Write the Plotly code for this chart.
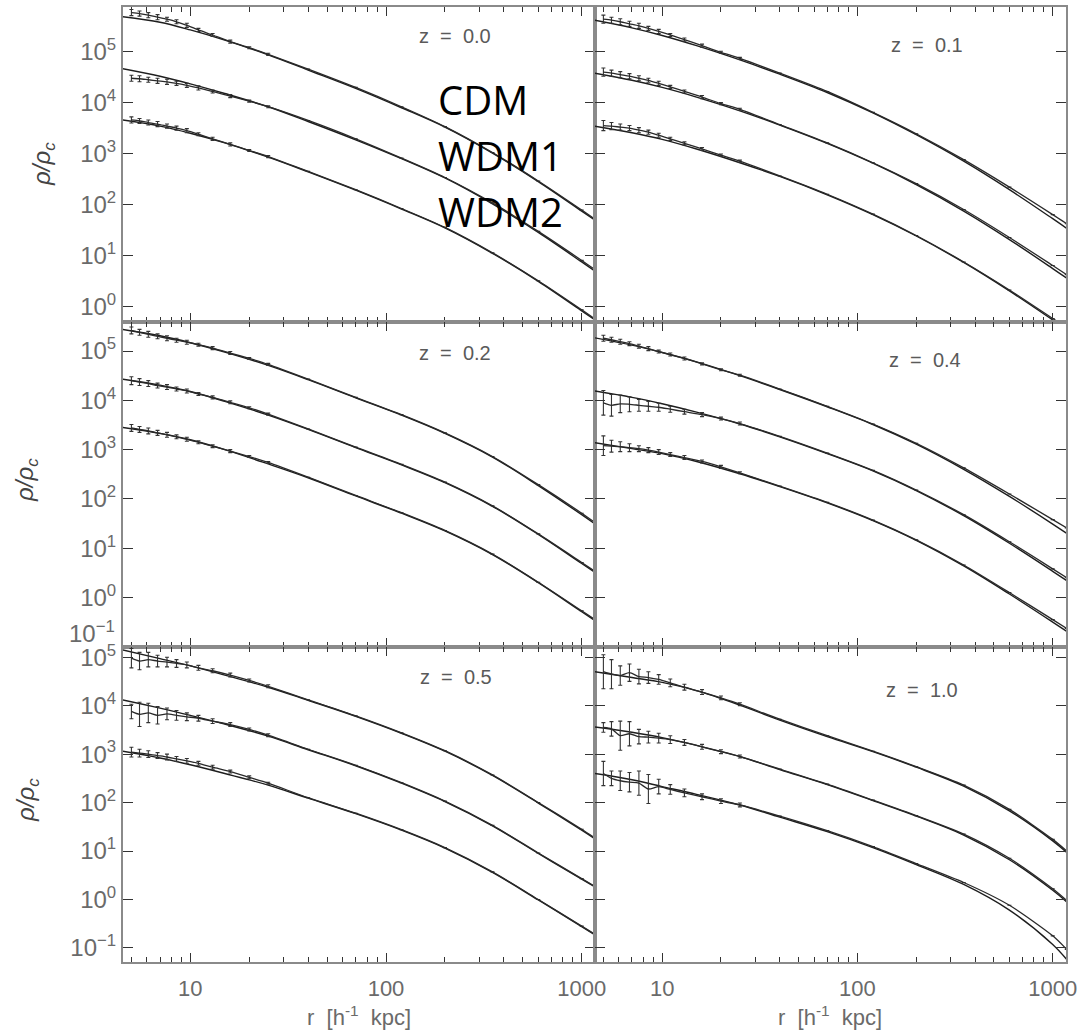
import numpy as np
import plotly.graph_objects as go

# ---------------- data (log10 of rho/rho_c) ----------------
R_FIT = [4.5, 7, 10, 15, 25, 40, 70, 120, 200, 350, 600, 1000, 1180]
R_DATA = [5.0, 5.5, 6.1, 6.8, 7.6, 8.5, 9.6, 11, 13, 16, 20, 25, 40, 70, 120, 200, 350, 600, 1000, 1180]
MODELS = ["CDM", "WDM1", "WDM2"]
REDSHIFTS = ["0.0", "0.1", "0.2", "0.4", "0.5", "1.0"]

# z = 0.0
fit_z00_cdm = [5.69, 5.58, 5.43, 5.23, 4.94, 4.64, 4.28, 3.90, 3.52, 3.01, 2.45, 1.87, 1.68]
fit_z00_wdm1 = [4.67, 4.52, 4.37, 4.18, 3.92, 3.63, 3.27, 2.90, 2.52, 2.01, 1.45, 0.87, 0.68]
fit_z00_wdm2 = [3.66, 3.54, 3.40, 3.21, 2.93, 2.64, 2.28, 1.91, 1.54, 1.04, 0.49, -0.09, -0.28]
data_z00_cdm = [5.77, 5.75, 5.72, 5.68, 5.64, 5.59, 5.52, 5.43, 5.33, 5.20, 5.08, 4.95, 4.66, 4.30, 3.92, 3.53, 3.02, 2.46, 1.89, 1.70]
data_z00_wdm1 = [4.48, 4.47, 4.45, 4.43, 4.41, 4.38, 4.34, 4.29, 4.22, 4.13, 4.03, 3.92, 3.65, 3.29, 2.91, 2.53, 2.03, 1.47, 0.90, 0.71]
data_z00_wdm2 = [3.66, 3.64, 3.61, 3.58, 3.54, 3.50, 3.45, 3.38, 3.29, 3.18, 3.06, 2.94, 2.65, 2.29, 1.92, 1.55, 1.05, 0.50, -0.07, -0.26]
err_z00_cdm = [0.06, 0.05, 0.05, 0.05, 0.04, 0.04, 0.04, 0.03, 0.03, 0.03, 0.02, 0.02]
err_z00_wdm1 = [0.06, 0.06, 0.05, 0.05, 0.05, 0.04, 0.04, 0.04, 0.03, 0.03, 0.02, 0.02]
err_z00_wdm2 = [0.06, 0.05, 0.05, 0.05, 0.04, 0.04, 0.04, 0.03, 0.03, 0.03, 0.02, 0.02]

# z = 0.1
fit_z01_cdm = [5.62, 5.47, 5.32, 5.12, 4.84, 4.56, 4.20, 3.80, 3.37, 2.85, 2.29, 1.72, 1.53]
fit_z01_wdm1 = [4.58, 4.44, 4.30, 4.11, 3.84, 3.56, 3.20, 2.81, 2.39, 1.87, 1.31, 0.74, 0.55]
fit_z01_wdm2 = [3.54, 3.41, 3.28, 3.09, 2.82, 2.55, 2.19, 1.80, 1.38, 0.86, 0.30, -0.27, -0.46]
data_z01_cdm = [5.64, 5.62, 5.59, 5.55, 5.51, 5.46, 5.40, 5.33, 5.24, 5.12, 4.99, 4.87, 4.58, 4.22, 3.81, 3.39, 2.88, 2.34, 1.80, 1.62]
data_z01_wdm1 = [4.60, 4.58, 4.55, 4.52, 4.48, 4.44, 4.38, 4.31, 4.22, 4.11, 3.98, 3.87, 3.57, 3.21, 2.82, 2.41, 1.90, 1.35, 0.80, 0.62]
data_z01_wdm2 = [3.55, 3.54, 3.52, 3.50, 3.46, 3.42, 3.36, 3.29, 3.20, 3.09, 2.97, 2.85, 2.56, 2.20, 1.81, 1.39, 0.87, 0.32, -0.24, -0.42]
err_z01_cdm = [0.08, 0.06, 0.06, 0.05, 0.05, 0.04, 0.04, 0.03, 0.03, 0.03, 0.02, 0.02]
err_z01_wdm1 = [0.08, 0.06, 0.06, 0.05, 0.05, 0.04, 0.04, 0.03, 0.03, 0.03, 0.02, 0.02]
err_z01_wdm2 = [0.10, 0.07, 0.06, 0.05, 0.05, 0.04, 0.04, 0.03, 0.03, 0.03, 0.02, 0.02]

# z = 0.2
fit_z02_cdm = [5.44, 5.31, 5.17, 4.98, 4.71, 4.42, 4.05, 3.70, 3.33, 2.85, 2.27, 1.68, 1.48]
fit_z02_wdm1 = [4.43, 4.31, 4.18, 3.98, 3.70, 3.41, 3.04, 2.69, 2.33, 1.85, 1.28, 0.69, 0.50]
fit_z02_wdm2 = [3.45, 3.33, 3.20, 3.00, 2.71, 2.43, 2.06, 1.71, 1.35, 0.87, 0.30, -0.29, -0.48]
data_z02_cdm = [5.42, 5.38, 5.34, 5.30, 5.26, 5.22, 5.18, 5.13, 5.06, 4.96, 4.85, 4.73, 4.43, 4.06, 3.71, 3.34, 2.86, 2.29, 1.71, 1.51]
data_z02_wdm1 = [4.40, 4.37, 4.34, 4.30, 4.27, 4.23, 4.19, 4.13, 4.06, 3.96, 3.85, 3.72, 3.42, 3.05, 2.70, 2.34, 1.86, 1.29, 0.71, 0.52]
data_z02_wdm2 = [3.44, 3.41, 3.38, 3.34, 3.30, 3.26, 3.21, 3.15, 3.07, 2.97, 2.86, 2.74, 2.44, 2.07, 1.72, 1.36, 0.88, 0.31, -0.27, -0.46]
err_z02_cdm = [0.07, 0.06, 0.06, 0.05, 0.05, 0.04, 0.04, 0.03, 0.03, 0.03, 0.02, 0.02]
err_z02_wdm1 = [0.08, 0.07, 0.06, 0.05, 0.05, 0.04, 0.04, 0.03, 0.03, 0.03, 0.02, 0.02]
err_z02_wdm2 = [0.07, 0.06, 0.06, 0.05, 0.05, 0.04, 0.04, 0.03, 0.03, 0.03, 0.02, 0.02]

# z = 0.4
fit_z04_cdm = [5.27, 5.12, 4.97, 4.78, 4.50, 4.22, 3.87, 3.51, 3.11, 2.60, 2.05, 1.49, 1.30]
fit_z04_wdm1 = [4.19, 4.06, 3.93, 3.76, 3.52, 3.26, 2.92, 2.57, 2.17, 1.66, 1.10, 0.53, 0.34]
fit_z04_wdm2 = [3.14, 3.02, 2.92, 2.76, 2.51, 2.25, 1.92, 1.56, 1.16, 0.64, 0.07, -0.50, -0.69]
data_z04_cdm = [5.26, 5.23, 5.19, 5.15, 5.10, 5.05, 4.99, 4.93, 4.85, 4.74, 4.62, 4.51, 4.23, 3.88, 3.52, 3.13, 2.63, 2.10, 1.58, 1.41]
data_z04_wdm1 = [3.95, 3.90, 3.93, 3.92, 3.90, 3.88, 3.86, 3.82, 3.77, 3.71, 3.63, 3.53, 3.27, 2.93, 2.58, 2.18, 1.68, 1.13, 0.58, 0.40]
data_z04_wdm2 = [3.08, 3.07, 3.06, 3.04, 3.02, 2.99, 2.95, 2.90, 2.84, 2.76, 2.65, 2.53, 2.26, 1.93, 1.57, 1.17, 0.66, 0.10, -0.45, -0.63]
err_z04_cdm = [0.06, 0.05, 0.05, 0.04, 0.04, 0.04, 0.03, 0.03, 0.03, 0.02, 0.02, 0.02]
err_z04_wdm1 = [0.25, 0.22, 0.18, 0.15, 0.12, 0.10, 0.08, 0.06, 0.05, 0.04, 0.03, 0.03]
err_z04_wdm2 = [0.20, 0.12, 0.10, 0.08, 0.06, 0.05, 0.05, 0.04, 0.04, 0.03, 0.03, 0.02]

# z = 0.5
fit_z05_cdm = [5.15, 4.97, 4.82, 4.63, 4.38, 4.11, 3.78, 3.43, 3.06, 2.56, 1.99, 1.43, 1.24]
fit_z05_wdm1 = [4.12, 3.95, 3.80, 3.62, 3.37, 3.09, 2.76, 2.40, 2.02, 1.52, 0.95, 0.42, 0.25]
fit_z05_wdm2 = [3.06, 2.92, 2.78, 2.60, 2.36, 2.09, 1.77, 1.43, 1.06, 0.56, -0.01, -0.56, -0.74]
data_z05_cdm = [4.98, 4.92, 4.95, 4.92, 4.90, 4.87, 4.84, 4.78, 4.72, 4.63, 4.52, 4.40, 4.12, 3.79, 3.44, 3.07, 2.57, 2.00, 1.45, 1.26]
data_z05_wdm1 = [3.88, 3.82, 3.85, 3.80, 3.83, 3.80, 3.77, 3.74, 3.68, 3.61, 3.51, 3.39, 3.10, 2.77, 2.41, 2.03, 1.53, 0.96, 0.43, 0.26]
data_z05_wdm2 = [3.04, 3.02, 3.00, 2.97, 2.94, 2.90, 2.86, 2.81, 2.73, 2.64, 2.52, 2.40, 2.10, 1.78, 1.44, 1.07, 0.57, 0.00, -0.55, -0.73]
err_z05_cdm = [0.20, 0.18, 0.15, 0.12, 0.10, 0.08, 0.06, 0.05, 0.04, 0.04, 0.03, 0.03]
err_z05_wdm1 = [0.15, 0.25, 0.20, 0.18, 0.12, 0.10, 0.08, 0.06, 0.05, 0.04, 0.03, 0.03]
err_z05_wdm2 = [0.10, 0.08, 0.07, 0.06, 0.06, 0.05, 0.05, 0.04, 0.04, 0.03, 0.03, 0.02]

# z = 1.0
fit_z10_cdm = [4.70, 4.58, 4.48, 4.31, 4.01, 3.70, 3.36, 3.05, 2.73, 2.34, 1.83, 1.21, 0.97]
fit_z10_wdm1 = [3.56, 3.45, 3.34, 3.18, 2.95, 2.68, 2.37, 2.04, 1.72, 1.33, 0.82, 0.19, -0.05]
fit_z10_wdm2 = [2.60, 2.47, 2.33, 2.17, 1.95, 1.70, 1.40, 1.07, 0.72, 0.31, -0.22, -0.93, -1.24]
data_z10_cdm = [4.70, 4.65, 4.62, 4.68, 4.60, 4.58, 4.54, 4.47, 4.38, 4.28, 4.16, 4.03, 3.72, 3.38, 3.06, 2.74, 2.36, 1.86, 1.24, 1.00]
data_z10_wdm1 = [3.55, 3.52, 3.38, 3.42, 3.36, 3.35, 3.33, 3.30, 3.24, 3.15, 3.05, 2.95, 2.69, 2.38, 2.05, 1.73, 1.35, 0.85, 0.22, -0.02]
data_z10_wdm2 = [2.60, 2.50, 2.45, 2.42, 2.40, 2.28, 2.33, 2.27, 2.20, 2.12, 2.03, 1.95, 1.72, 1.42, 1.09, 0.74, 0.35, -0.12, -0.75, -1.03]
err_z10_cdm = [0.35, 0.30, 0.20, 0.18, 0.15, 0.12, 0.10, 0.08, 0.06, 0.05, 0.04, 0.03]
err_z10_wdm1 = [0.10, 0.15, 0.30, 0.25, 0.15, 0.12, 0.10, 0.08, 0.06, 0.05, 0.04, 0.03]
err_z10_wdm2 = [0.25, 0.15, 0.20, 0.20, 0.25, 0.30, 0.15, 0.10, 0.08, 0.06, 0.05, 0.04]

PANELS = [
    ("0.0", [fit_z00_cdm, fit_z00_wdm1, fit_z00_wdm2], [data_z00_cdm, data_z00_wdm1, data_z00_wdm2], [err_z00_cdm, err_z00_wdm1, err_z00_wdm2]),
    ("0.1", [fit_z01_cdm, fit_z01_wdm1, fit_z01_wdm2], [data_z01_cdm, data_z01_wdm1, data_z01_wdm2], [err_z01_cdm, err_z01_wdm1, err_z01_wdm2]),
    ("0.2", [fit_z02_cdm, fit_z02_wdm1, fit_z02_wdm2], [data_z02_cdm, data_z02_wdm1, data_z02_wdm2], [err_z02_cdm, err_z02_wdm1, err_z02_wdm2]),
    ("0.4", [fit_z04_cdm, fit_z04_wdm1, fit_z04_wdm2], [data_z04_cdm, data_z04_wdm1, data_z04_wdm2], [err_z04_cdm, err_z04_wdm1, err_z04_wdm2]),
    ("0.5", [fit_z05_cdm, fit_z05_wdm1, fit_z05_wdm2], [data_z05_cdm, data_z05_wdm1, data_z05_wdm2], [err_z05_cdm, err_z05_wdm1, err_z05_wdm2]),
    ("1.0", [fit_z10_cdm, fit_z10_wdm1, fit_z10_wdm2], [data_z10_cdm, data_z10_wdm1, data_z10_wdm2], [err_z10_cdm, err_z10_wdm1, err_z10_wdm2]),
]

# ---------------- layout geometry ----------------
W, H = 1090, 1035
X_DOM = [[123 / W, 595 / W], [595 / W, 1066 / W]]
Y_DOM = [[1 - 322 / H, 1 - 7 / H], [1 - 647 / H, 1 - 322 / H], [1 - 962 / H, 1 - 647 / H]]
Y_RANGE = [[-0.31, 5.88], [-1.005, 5.59], [-1.29, 5.21]]
X_RANGE = [0.656, 3.068]

FONT = "Liberation Sans, Arial, sans-serif"
AXCOL = "#8a8a8a"
TICKCOL = "#333333"
LABCOL = "#6a6a6a"
LINECOL = "#1e1e1e"


def sup_label(k):
    return "10<sup>" + (str(k) if k >= 0 else "\u2212" + str(-k)) + "</sup>"


fig = go.Figure()

for i, (zlab, fits, datas, errs) in enumerate(PANELS):
    row, col = i // 2, i % 2
    xa = "x" if i == 0 else f"x{i+1}"
    ya = "y" if i == 0 else f"y{i+1}"
    for m, name in enumerate(MODELS):
        yfit = 10 ** np.array(fits[m])
        fig.add_trace(go.Scatter(x=R_FIT, y=yfit, mode="lines", xaxis=xa, yaxis=ya,
                                 line=dict(color=LINECOL, width=1.4, shape="spline", smoothing=1.0),
                                 showlegend=False, name=f"{name} fit z={zlab}"))
        yd = 10 ** np.array(datas[m])
        e = np.array(errs[m] + [0.0] * (len(R_DATA) - len(errs[m])))
        plus = yd * (10 ** e - 1)
        minus = yd * (1 - 10 ** (-e))
        fig.add_trace(go.Scatter(x=R_DATA, y=yd, mode="lines", xaxis=xa, yaxis=ya,
                                 line=dict(color="#2a2a2a", width=1.3, shape="spline", smoothing=0.7),
                                 showlegend=False, name=f"{name} z={zlab}",
                                 error_y=dict(type="data", symmetric=False, array=plus,
                                              arrayminus=minus, color="#333333",
                                              thickness=1.1, width=2)))

    xkey = "xaxis" if i == 0 else f"xaxis{i+1}"
    ykey = "yaxis" if i == 0 else f"yaxis{i+1}"
    yr = Y_RANGE[row]
    kmin = int(np.ceil(yr[0] - 1e-9))
    kmax = int(np.floor(yr[1]))
    ytv = [10.0 ** k for k in range(kmin, kmax + 1)]
    ytt = [sup_label(k) for k in range(kmin, kmax + 1)]
    if row == 1:
        ytt[0] = ""  # drawn as annotation (offset upward, like the reference)
    fig.update_layout({
        xkey: dict(type="log", range=X_RANGE, domain=X_DOM[col], anchor=ya,
                   automargin=False,
                   showline=True, linecolor=AXCOL, linewidth=2, mirror="ticks",
                   ticks="inside", ticklen=9, tickwidth=1.4, tickcolor=TICKCOL,
                   tickmode="linear", tick0=0, dtick=1, exponentformat="none",
                   showticklabels=(row == 2), ticklabelstandoff=6,
                   tickfont=dict(family=FONT, size=22, color=LABCOL),
                   minor=dict(ticks="inside", ticklen=5, tickwidth=1.2, tickcolor=TICKCOL,
                              dtick="D1", showgrid=False),
                   showgrid=False, zeroline=False),
        ykey: dict(type="log", range=yr, domain=Y_DOM[row], anchor=xa,
                   automargin=False,
                   showline=True, linecolor=AXCOL, linewidth=2, mirror="ticks",
                   ticks="inside", ticklen=10, tickwidth=1.4, tickcolor=TICKCOL,
                   tickmode="array", tickvals=ytv, ticktext=ytt,
                   showticklabels=(col == 0),
                   tickfont=dict(family=FONT, size=24, color=LABCOL),
                   showgrid=False, zeroline=False),
    })

ann = []
# row-2 bottom label (10^-1), placed slightly above its tick as in the reference
ann.append(dict(x=117 / W, y=1 - 632 / H, xref="paper", yref="paper", showarrow=False,
                text=sup_label(-1), xanchor="right", yanchor="middle",
                font=dict(family=FONT, size=24, color=LABCOL)))
# redshift labels
Z_POS = [(455, 36), (927, 45), (455, 353), (925, 360), (456, 677), (922, 690)]
for (zlab, *_), (px, py) in zip(PANELS, Z_POS):
    ann.append(dict(x=px / W, y=1 - py / H, xref="paper", yref="paper", showarrow=False,
                    text="z\u00a0\u00a0=\u00a0\u00a0" + zlab, xanchor="center", yanchor="middle",
                    font=dict(family=FONT, size=20, color="#5a5a5a")))
# big model labels
for name, py in zip(MODELS, [99, 155, 212]):
    ann.append(dict(x=436 / W, y=1 - py / H, xref="paper", yref="paper", showarrow=False,
                    text=name, xanchor="left", yanchor="middle",
                    font=dict(family="Open Sans, Liberation Sans, sans-serif", size=40, color="#000000")))
# y titles
for px, py in [(44, 164), (26, 480), (27, 800)]:
    ann.append(dict(x=px / W, y=1 - py / H, xref="paper", yref="paper", showarrow=False,
                    text="<i>\u03c1/\u03c1<sub>c</sub></i>", textangle=-90,
                    xanchor="center", yanchor="middle",
                    font=dict(family=FONT, size=24, color="#444444")))
# x titles
for px in [359, 830]:
    ann.append(dict(x=px / W, y=1 - 1016 / H, xref="paper", yref="paper", showarrow=False,
                    text="r\u00a0\u00a0[h<sup>-1</sup>\u00a0\u00a0kpc]", xanchor="center", yanchor="middle",
                    font=dict(family=FONT, size=22, color=LABCOL)))

fig.update_layout(width=W, height=H, margin=dict(l=0, r=0, t=0, b=0, autoexpand=False),
                  paper_bgcolor="white", plot_bgcolor="white", annotations=ann,
                  showlegend=False)

# the page's default 8px body margin would shift the 1090x1035 figure; remove it
fig.write_html("out.html", config={"displayModeBar": False},
               post_script="document.body.style.margin='0px';document.body.style.overflow='hidden';")
